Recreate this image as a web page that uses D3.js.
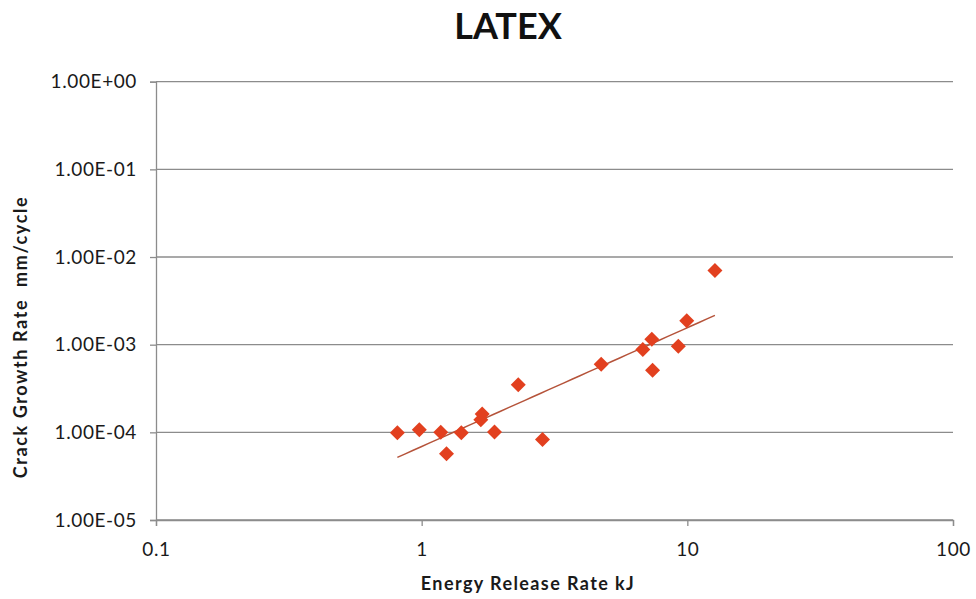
<!DOCTYPE html>
<html>
<head>
<meta charset="utf-8">
<script src="https://cdn.jsdelivr.net/npm/d3@7"></script>
<style>
  html, body { margin: 0; padding: 0; background: #fff; }
  svg { display: block; font-family: Lato, "Open Sans", "Liberation Sans", sans-serif; }
</style>
</head>
<body>
<svg id="chart" width="976" height="599"></svg>
<script>
// Energy release rate (kJ) and crack growth rate (mm/cycle) for latex
const energyRelease = [0.81, 0.98, 1.18, 1.24, 1.41, 1.67, 1.69, 1.88, 2.31, 2.85, 4.74, 6.80, 7.35, 7.40, 9.25, 9.95, 12.7];
const crackGrowth   = [9.9e-5, 1.07e-4, 1.0e-4, 5.7e-5, 9.9e-5, 1.39e-4, 1.62e-4, 1.01e-4, 3.5e-4, 8.3e-5, 6.0e-4, 8.8e-4, 1.15e-3, 5.1e-4, 9.6e-4, 1.87e-3, 7.0e-3];

const xTicks = [0.1, 1, 10, 100];
const xTickLabels = ["0.1", "1", "10", "100"];
const yTicks = [1e0, 1e-1, 1e-2, 1e-3, 1e-4, 1e-5];
const yTickLabels = ["1.00E+00", "1.00E-01", "1.00E-02", "1.00E-03", "1.00E-04", "1.00E-05"];

const svg = d3.select("#chart");
const plotLeft = 156, plotRight = 953, plotTop = 81.7, plotBottom = 520;
const axisColor = "#8c8c8c", textColor = "#1a1a1a";

const x = d3.scaleLog().domain([0.1, 100]).range([plotLeft, plotRight]);
const y = d3.scaleLog().domain([1e-5, 1]).range([plotBottom, plotTop]);

// Horizontal gridlines
svg.append("g").selectAll("line").data(yTicks).join("line")
  .attr("x1", plotLeft).attr("x2", plotRight)
  .attr("y1", d => y(d)).attr("y2", d => y(d))
  .attr("stroke", axisColor).attr("stroke-width", 1.3);

function styleAxis(g) {
  g.select(".domain").attr("stroke", axisColor).attr("stroke-width", 1.3);
  g.selectAll(".tick line").attr("stroke", axisColor).attr("stroke-width", 1.3);
  g.selectAll(".tick text").attr("font-size", 19).attr("fill", textColor)
    .attr("letter-spacing", 0.6)
    .attr("font-family", "Lato, 'Open Sans', sans-serif");
}

// Y axis
const yAxis = d3.axisLeft(y).tickValues(yTicks)
  .tickFormat((d, i) => yTickLabels[i]).tickSize(6).tickPadding(13);
svg.append("g").attr("transform", `translate(${plotLeft},0)`).call(yAxis).call(styleAxis);

// X axis
const xAxis = d3.axisBottom(x).tickValues(xTicks)
  .tickFormat((d, i) => xTickLabels[i]).tickSize(6).tickPadding(17);
svg.append("g").attr("transform", `translate(0,${plotBottom})`).call(xAxis).call(styleAxis);

// Power-law trendline fitted in log-log space
const lx = energyRelease.map(Math.log10), ly = crackGrowth.map(Math.log10);
const mx = d3.mean(lx), my = d3.mean(ly);
const slope = d3.sum(lx, (v, i) => (v - mx) * (ly[i] - my)) / d3.sum(lx, v => (v - mx) ** 2);
const intercept = my - slope * mx;
const xExt = d3.extent(energyRelease);
const fit = d3.range(0, 41).map(i => {
  const lv = Math.log10(xExt[0]) + (Math.log10(xExt[1]) - Math.log10(xExt[0])) * i / 40;
  return [10 ** lv, 10 ** (intercept + slope * lv)];
});
svg.append("path")
  .datum(fit)
  .attr("d", d3.line().x(d => x(d[0])).y(d => y(d[1])))
  .attr("fill", "none").attr("stroke", "#b5533a").attr("stroke-width", 1.5);

// Diamond markers
const diamond = "M0,-7.5L7.5,0L0,7.5L-7.5,0Z";
svg.append("g").selectAll("path").data(energyRelease).join("path")
  .attr("d", diamond)
  .attr("transform", (d, i) => `translate(${x(d)},${y(crackGrowth[i])})`)
  .attr("fill", "#e2401f");

// Titles
svg.append("text").attr("x", 508).attr("y", 39).attr("text-anchor", "middle")
  .attr("font-size", 36).attr("font-weight", "bold").attr("fill", "#111")
  .text("LATEX");
svg.append("text").attr("x", 528).attr("y", 590).attr("text-anchor", "middle")
  .attr("font-size", 18).attr("font-weight", "bold").attr("fill", textColor)
  .attr("letter-spacing", 1.4)
  .text("Energy Release Rate kJ");
svg.append("text")
  .attr("transform", "translate(27,337) rotate(-90)")
  .attr("text-anchor", "middle")
  .attr("font-size", 18).attr("font-weight", "bold").attr("fill", textColor)
  .attr("letter-spacing", 1.6)
  .attr("xml:space", "preserve")
  .text("Crack Growth Rate  mm/cycle");
</script>
</body>
</html>
